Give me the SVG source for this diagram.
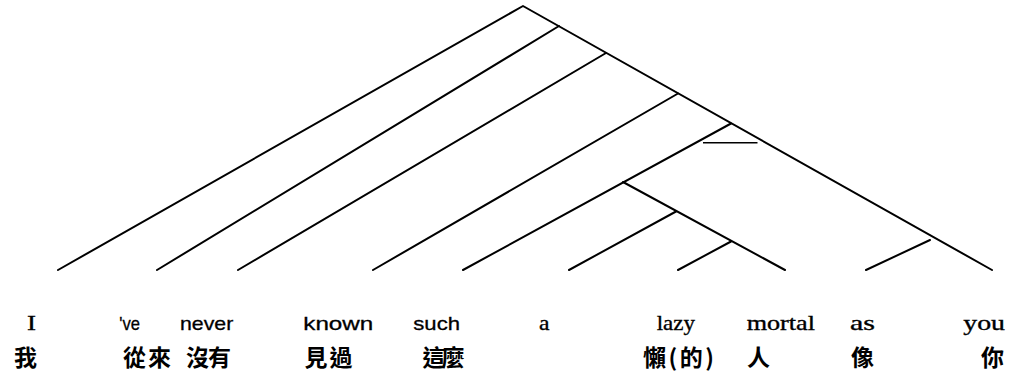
<svg xmlns="http://www.w3.org/2000/svg" width="1014" height="382" viewBox="0 0 1014 382">
<style>
  .br { fill: none; stroke: #000; stroke-width: 2; stroke-linecap: round; stroke-linejoin: round; }
  .bar { fill: none; stroke: #000; stroke-width: 1.6; }
  .en { font-family: "Liberation Serif", "Times New Roman", serif; font-size: 21px; fill: #000; stroke: #000; stroke-width: 0.35; }
  .ens { font-family: "Liberation Sans", Arial, sans-serif; font-size: 19px; fill: #000; stroke: #000; stroke-width: 0.3; }
  .zh { font-family: "Noto Sans CJK TC", "Noto Sans CJK SC", sans-serif; font-size: 23px; font-weight: 700; fill: #000; }
</style>
<rect width="1014" height="382" fill="#fff"/>
<g id="connectors">
  <polyline class="br" points="58,270 523,6 992,270"/>
  <line class="br" x1="157" y1="270" x2="559" y2="26"/>
  <line class="br" x1="238" y1="270" x2="606" y2="53"/>
  <line class="br" x1="373" y1="270" x2="678" y2="93.5"/>
  <line class="br" x1="463" y1="270" x2="731" y2="123.5"/>
  <line class="br" x1="623" y1="182" x2="785" y2="270"/>
  <line class="br" x1="569" y1="270" x2="676" y2="211.5"/>
  <line class="br" x1="678" y1="270" x2="731" y2="241.5"/>
  <line class="br" x1="866" y1="270" x2="930" y2="240"/>
  <line class="bar" x1="703" y1="142.7" x2="757.5" y2="142.7"/>
</g>
<g id="w-I"><text class="en" x="27" y="330" textLength="9" lengthAdjust="spacingAndGlyphs">I</text><text class="zh" x="14" y="366">我</text></g>
<g id="w-ve"><text class="ens" x="119.3" y="330" textLength="20.7" lengthAdjust="spacingAndGlyphs">'ve</text><text class="zh" x="123" y="366" textLength="48" lengthAdjust="spacing">從來</text></g>
<g id="w-never"><text class="ens" x="180" y="330" textLength="53.3" lengthAdjust="spacingAndGlyphs">never</text><text class="zh" x="186" y="366" textLength="45" lengthAdjust="spacing">沒有</text></g>
<g id="w-known"><text class="ens" x="303.3" y="330" textLength="70" lengthAdjust="spacingAndGlyphs">known</text><text class="zh" x="304.5" y="366" textLength="48" lengthAdjust="spacing">見過</text></g>
<g id="w-such"><text class="ens" x="413.3" y="330" textLength="46.7" lengthAdjust="spacingAndGlyphs">such</text><text class="zh" x="422.5" y="366" textLength="42" lengthAdjust="spacing">這麼</text></g>
<g id="w-a"><text class="en" x="539" y="330" textLength="10.5" lengthAdjust="spacingAndGlyphs">a</text></g>
<g id="w-lazy"><text class="en" x="656.7" y="330" textLength="38.3" lengthAdjust="spacingAndGlyphs">lazy</text><text class="zh" x="643" y="366" textLength="71" lengthAdjust="spacing">懶(的)</text></g>
<g id="w-mortal"><text class="en" x="746.7" y="330" textLength="68.3" lengthAdjust="spacingAndGlyphs">mortal</text><text class="zh" x="747" y="366">人</text></g>
<g id="w-as"><text class="en" x="850" y="330" textLength="25" lengthAdjust="spacingAndGlyphs">as</text><text class="zh" x="851" y="366">像</text></g>
<g id="w-you"><text class="en" x="963.3" y="330" textLength="41.7" lengthAdjust="spacingAndGlyphs">you</text><text class="zh" x="981" y="366">你</text></g>
</svg>
